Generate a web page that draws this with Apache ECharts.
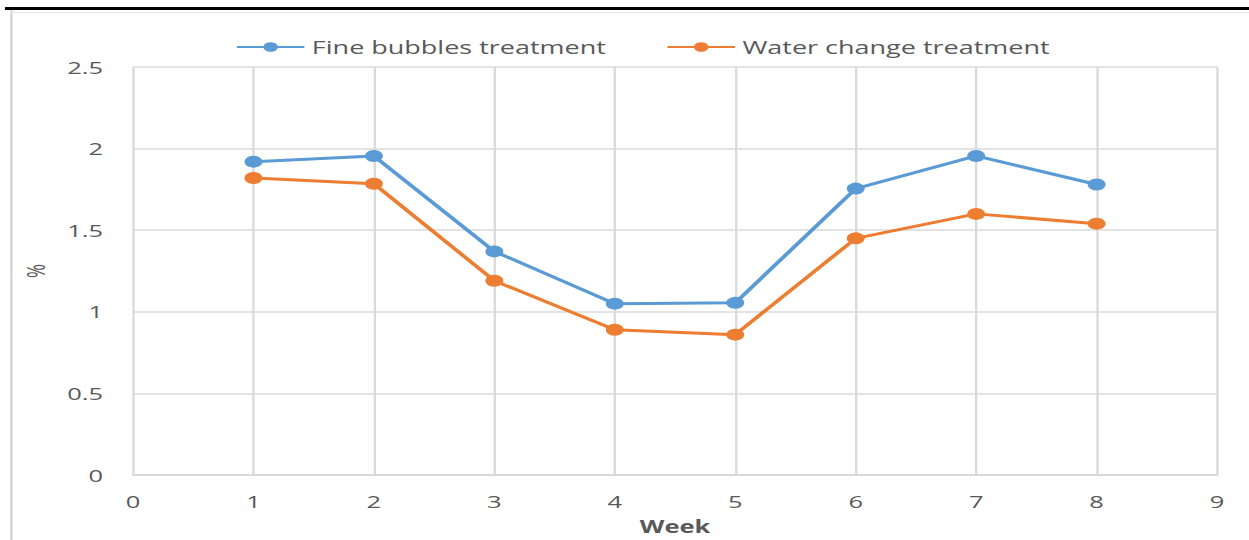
<!DOCTYPE html>
<html>
<head>
<meta charset="utf-8">
<script src="https://cdn.jsdelivr.net/npm/echarts@6/dist/echarts.min.js"></script>
<style>
  html, body { margin: 0; padding: 0; background: #fff; overflow: hidden; }
  /* the chart is laid out narrow and widened 1.5x, giving the wide lettering and oval markers */
  #chart { width: 833px; height: 540px; transform: scaleX(1.4994); transform-origin: 0 0; }
</style>
</head>
<body>
<div id="chart"></div>
<script>
// Weekly measurements (%) for two treatments
const weeks = [1, 2, 3, 4, 5, 6, 7, 8];
const fineBubbles = [1.92, 1.955, 1.37, 1.05, 1.055, 1.755, 1.955, 1.78];
const waterChange = [1.82, 1.785, 1.19, 0.89, 0.86, 1.45, 1.60, 1.54];
const seriesNames = ['Fine bubbles treatment', 'Water change treatment'];
const xTicks = [0, 1, 2, 3, 4, 5, 6, 7, 8, 9];
const yTicks = [0, 0.5, 1, 1.5, 2, 2.5];

const FONT = '"Open Sans", "Noto Sans", sans-serif';
const TEXT = '#595959';
const GRID = '#d9d9d9';

const chart = echarts.init(document.getElementById('chart'), null, { renderer: 'svg' });

const pairs = (xs, ys) => xs.map((x, i) => [x, ys[i]]);

chart.setOption({
  animation: false,
  backgroundColor: '#ffffff',
  graphic: [
    // rule across the top of the page
    { type: 'rect', shape: { x: 3.3, y: 7, width: 840, height: 3 }, style: { fill: '#000' } },
    // chart frame (left and top edges)
    { type: 'line', shape: { x1: 7.6, y1: 10, x2: 7.6, y2: 540 }, style: { stroke: '#cfcfcf', lineWidth: 1.4 } },
    { type: 'line', shape: { x1: 7.3, y1: 12.5, x2: 840, y2: 12.5 }, style: { stroke: '#e8e8e8', lineWidth: 1 } }
  ],
  legend: {
    top: 33,
    left: 152,
    itemWidth: 45,
    itemHeight: 12,
    itemGap: 40,
    textStyle: { fontFamily: FONT, fontSize: 18, color: TEXT },
    data: seriesNames
  },
  grid: { left: 88.7, right: 21.3, top: 67, bottom: 60 },
  xAxis: {
    type: 'value',
    min: xTicks[0],
    max: xTicks[xTicks.length - 1],
    interval: 1,
    name: 'Week',
    nameLocation: 'middle',
    nameGap: 43,
    nameTextStyle: { fontFamily: FONT, fontSize: 17, fontWeight: 'bold', color: TEXT },
    axisLine: { show: true, lineStyle: { color: GRID, width: 2 } },
    axisTick: { show: false },
    axisLabel: { margin: 18, fontFamily: FONT, fontSize: 17, color: TEXT },
    splitLine: { show: true, lineStyle: { color: GRID, width: 1.5 } }
  },
  yAxis: {
    type: 'value',
    min: yTicks[0],
    max: yTicks[yTicks.length - 1],
    interval: 0.5,
    name: '%',
    nameLocation: 'middle',
    nameGap: 57,
    nameRotate: 90,
    nameTextStyle: { fontFamily: FONT, fontSize: 17, color: TEXT },
    axisLine: { show: false },
    axisTick: { show: false },
    axisLabel: { margin: 20, fontFamily: FONT, fontSize: 17, color: TEXT },
    splitLine: { show: true, lineStyle: { color: '#e3e3e3', width: 2 } }
  },
  series: [
    {
      name: seriesNames[0],
      type: 'line',
      data: pairs(weeks, fineBubbles),
      symbol: 'circle',
      symbolSize: 12,
      lineStyle: { color: '#5b9bd5', width: 3 },
      itemStyle: { color: '#5b9bd5' },
      z: 3
    },
    {
      name: seriesNames[1],
      type: 'line',
      data: pairs(weeks, waterChange),
      symbol: 'circle',
      symbolSize: 12,
      lineStyle: { color: '#ed7d31', width: 3 },
      itemStyle: { color: '#ed7d31' },
      z: 2
    }
  ]
});
</script>
</body>
</html>
